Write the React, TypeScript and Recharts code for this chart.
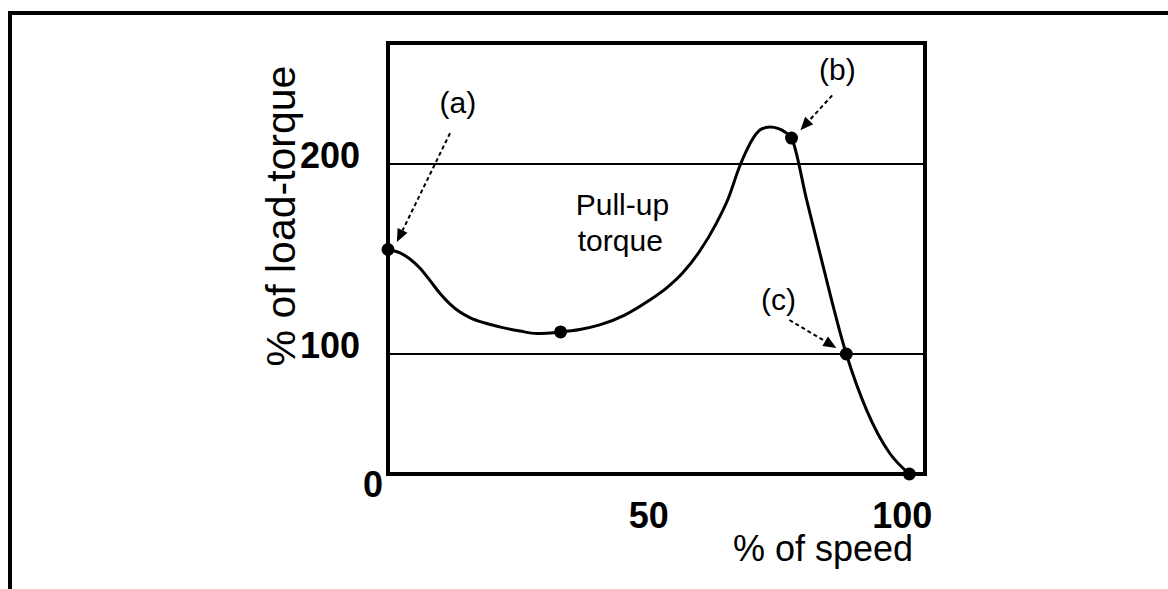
import React from 'react';
import {
  LineChart,
  Line,
  XAxis,
  YAxis,
  CartesianGrid,
  ReferenceArea,
  ReferenceLine,
  ReferenceDot,
} from 'recharts';

// ---- data ----
const speed = [
  0, 2.3, 4.2, 6.1, 8.0, 9.9, 11.9, 13.8, 15.7, 18.6, 22.0, 25.3, 28.5, 33.1, 36.8, 40.6, 45.4, 50.2, 53.4, 56.5,
  59.8, 63.0, 65.3, 67.4, 69.0, 70.3, 71.6, 73.2, 74.9, 76.2, 77.4, 80.3, 83.3, 87.9, 91.8, 96.2, 100,
];
const torque = [
  155, 153.2, 150.0, 145.3, 138.9, 132.1, 126.3, 122.1, 119.2, 116.3, 113.9, 112.1, 110.8, 111.6, 112.9, 115.3, 120.5,
  128.4, 134.7, 142.6, 154.2, 168.9, 182.1, 198.4, 208.4, 214.7, 218.4, 219.5, 218.7, 216.8, 213.7, 181.1, 147.9, 100,
  53.3, 17.5, 0,
];
// points marked with a dot: (a), the pull-up minimum, (b), (c) and synchronous speed
const markedSpeeds = [0, 33.1, 77.4, 87.9, 100];

const xTicks = [50, 100];
const yTicks = [0, 100, 200];

// the hand-drawn torque axis is not uniform: 0-100 is compressed vs 100-200
const yKnotValues = [0, 100, 200, 264];
const yKnotFractions = [0, 0.2784, 0.7193, 1];

const xDomain = [0, 103];

const data = speed.map((s, i) => ({ speed: s, torque: torque[i], marked: markedSpeeds.includes(s) }));

const FONT = '"Liberation Sans", Arial, Helvetica, sans-serif';

function createPiecewiseScale(values: number[], fractions: number[]): any {
  let domain: number[] = [values[0], values[values.length - 1]];
  let range: number[] = [0, 1];
  const toFraction = (v: number) => {
    const n = values.length;
    let i = 0;
    while (i < n - 2 && v > values[i + 1]) i++;
    const t = (v - values[i]) / (values[i + 1] - values[i]);
    return fractions[i] + t * (fractions[i + 1] - fractions[i]);
  };
  const fromFraction = (f: number) => {
    const n = fractions.length;
    let i = 0;
    while (i < n - 2 && f > fractions[i + 1]) i++;
    const t = (f - fractions[i]) / (fractions[i + 1] - fractions[i]);
    return values[i] + t * (values[i + 1] - values[i]);
  };
  const scale: any = (v: any) => {
    const num = Number(v);
    if (v === null || v === undefined || Number.isNaN(num)) return undefined;
    return range[0] + toFraction(num) * (range[1] - range[0]);
  };
  scale.domain = (d?: any) => {
    if (d === undefined) return domain.slice();
    domain = Array.from(d as number[]);
    return scale;
  };
  scale.range = (r?: any) => {
    if (r === undefined) return range.slice();
    range = Array.from(r as number[]);
    return scale;
  };
  scale.invert = (px: number) => fromFraction((px - range[0]) / (range[1] - range[0]));
  scale.copy = () => {
    const s = createPiecewiseScale(values, fractions);
    s.domain(domain);
    s.range(range);
    return s;
  };
  scale.ticks = () => values.slice(0, values.length - 1);
  scale.tickFormat = () => (v: any) => String(v);
  scale.nice = () => scale;
  scale.clamp = () => scale;
  return scale;
}

const torqueScale = createPiecewiseScale(yKnotValues, yKnotFractions);

const XTick = (props: any) => {
  const { x, y, payload } = props;
  const shift = payload.value === 100 ? -7 : 0;
  return (
    <text x={x + shift} y={y + 54} textAnchor="middle" fontFamily={FONT} fontSize={36} fontWeight="bold" fill="#000">
      {payload.value}
    </text>
  );
};

const YTick = (props: any) => {
  const { x, y, payload } = props;
  const isZero = payload.value === 0;
  return (
    <text
      x={x + (isZero ? -5 : -28)}
      y={y + (isZero ? 23 : 4)}
      textAnchor="end"
      fontFamily={FONT}
      fontSize={36}
      fontWeight="bold"
      fill="#000"
    >
      {payload.value}
    </text>
  );
};

const Arrow = (p: any) => {
  const { x1, y1, x2, y2 } = p;
  const dx = x2 - x1;
  const dy = y2 - y1;
  const len = Math.hypot(dx, dy) || 1;
  const ux = dx / len;
  const uy = dy / len;
  const head = 13;
  const half = 5.5;
  const bx = x2 - ux * head;
  const by = y2 - uy * head;
  const pts = `${x2},${y2} ${bx - uy * half},${by + ux * half} ${bx + uy * half},${by - ux * half}`;
  return (
    <g>
      <line x1={x1} y1={y1} x2={bx} y2={by} stroke="#000" strokeWidth={2} strokeDasharray="4 3" />
      <polygon points={pts} fill="#000" />
    </g>
  );
};

const makeText = (text: string, anchor: 'start' | 'middle' | 'end', size: number) => (p: any) => (
  <text x={p.cx} y={p.cy} textAnchor={anchor} fontFamily={FONT} fontSize={size} fill="#000">
    {text}
  </text>
);

const renderDot = (p: any) => {
  if (!p.payload || !p.payload.marked) return <g key={`d-${p.index}`} />;
  return <circle key={`d-${p.index}`} cx={p.cx} cy={p.cy} r={6.5} fill="#000" />;
};

export default function App() {
  return (
    <div style={{ position: 'absolute', left: 0, top: 0, width: 1168, height: 589, background: '#fff', overflow: 'hidden' }}>
      <div
        style={{
          position: 'absolute',
          left: 8,
          top: 11,
          width: 1160,
          height: 578,
          borderTop: '4px solid #000',
          borderLeft: '4px solid #000',
          boxSizing: 'border-box',
        }}
      />
      <div style={{ position: 'absolute', left: 0, top: 0 }}>
        <LineChart width={1168} height={589} data={data} margin={{ top: 43, right: 243, bottom: 0, left: 0 }}>
          <CartesianGrid horizontal vertical={false} stroke="#000" strokeWidth={2} />
          <XAxis
            dataKey="speed"
            type="number"
            domain={xDomain}
            ticks={xTicks}
            height={115}
            axisLine={false}
            tickLine={false}
            tickSize={0}
            tickMargin={0}
            tick={<XTick />}
            label={{
              content: () => (
                <text x={823} y={561} textAnchor="middle" fontFamily={FONT} fontSize={36} fill="#000">
                  % of speed
                </text>
              ),
            }}
          />
          <YAxis
            dataKey="torque"
            type="number"
            scale={torqueScale}
            domain={[yKnotValues[0], yKnotValues[yKnotValues.length - 1]]}
            ticks={yTicks}
            width={388}
            axisLine={false}
            tickLine={false}
            tickSize={0}
            tickMargin={0}
            tick={<YTick />}
            label={{
              content: () => (
                <text
                  x={295}
                  y={216}
                  transform="rotate(-90 295 216)"
                  textAnchor="middle"
                  fontFamily={FONT}
                  fontSize={41}
                  fill="#000"
                >
                  % of load-torque
                </text>
              ),
            }}
          />
          <ReferenceArea
            ifOverflow="visible"
            x1={xDomain[0]}
            x2={xDomain[1]}
            y1={yKnotValues[0]}
            y2={yKnotValues[yKnotValues.length - 1]}
            fill="none"
            fillOpacity={0}
            stroke="#000"
            strokeWidth={4}
            strokeOpacity={1}
          />
          <Line
            type="monotone"
            dataKey="torque"
            stroke="#000"
            strokeWidth={3}
            dot={renderDot}
            activeDot={false}
            isAnimationActive={false}
          />
          <ReferenceLine ifOverflow="visible" segment={[{ x: 11.9, y: 216.3 }, { x: 1.7, y: 158.9 }]} shape={Arrow} />
          <ReferenceLine ifOverflow="visible" segment={[{ x: 85.2, y: 236.3 }, { x: 79.1, y: 217.9 }]} shape={Arrow} />
          <ReferenceLine ifOverflow="visible" segment={[{ x: 77.0, y: 117.9 }, { x: 86.0, y: 103.2 }]} shape={Arrow} />
          <ReferenceDot ifOverflow="visible" x={13.4} y={226.8} r={0} shape={makeText('(a)', 'middle', 30)} />
          <ReferenceDot ifOverflow="visible" x={86.2} y={244.2} r={0} shape={makeText('(b)', 'middle', 30)} />
          <ReferenceDot ifOverflow="visible" x={74.9} y={123.2} r={0} shape={makeText('(c)', 'middle', 30)} />
          <ReferenceDot ifOverflow="visible" x={36.0} y={173.2} r={0} shape={makeText('Pull-up', 'start', 30)} />
          <ReferenceDot ifOverflow="visible" x={36.4} y={154.2} r={0} shape={makeText('torque', 'start', 30)} />
        </LineChart>
      </div>
    </div>
  );
}
